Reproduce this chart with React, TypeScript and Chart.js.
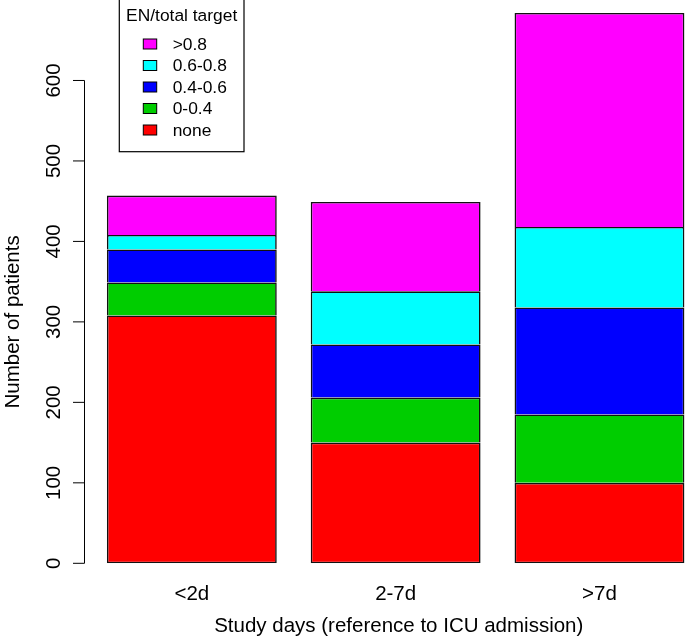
import React, { useEffect, useRef } from "react";
import { Chart, registerables } from "chart.js";

Chart.register(...registerables);

// ---- data ----
const CATEGORIES = ["<2d", "2-7d", ">7d"];
const SERIES_LABELS = ["none", "0-0.4", "0.4-0.6", "0.6-0.8", ">0.8"];
const NONE = [308, 150, 100];
const EN_0_04 = [41, 56, 85];
const EN_04_06 = [41, 66, 133];
const EN_06_08 = [18, 66, 100];
const EN_GT_08 = [49, 111, 266];
const Y_TICKS = [0, 100, 200, 300, 400, 500, 600];
const LEGEND_TITLE = "EN/total target";
const X_TITLE = "Study days (reference to ICU admission)";
const Y_TITLE = "Number of patients";
const COLORS = ["#FF0000", "#00CD00", "#0000FF", "#00FFFF", "#FF00FF"];

const FONT = "'Liberation Sans', Arial, Helvetica, sans-serif";
const MAIN_SIZE = 20.5;
const LEGEND_SIZE = 17.4;

const rStylePlugin = {
  id: "rStyle",
  afterDraw(chart: any) {
    const { ctx, chartArea, scales } = chart;
    const y = scales.y;
    const x0 = chartArea.left;
    ctx.save();
    // y axis line (only from first to last tick, like R)
    const yTop = y.getPixelForValue(Y_TICKS[Y_TICKS.length - 1]);
    const yBot = y.getPixelForValue(Y_TICKS[0]);
    ctx.strokeStyle = "#000";
    ctx.lineWidth = 1;
    ctx.beginPath();
    ctx.moveTo(x0, yTop);
    ctx.lineTo(x0, yBot);
    Y_TICKS.forEach((t) => {
      const py = y.getPixelForValue(t);
      ctx.moveTo(x0, py);
      ctx.lineTo(x0 - 11.5, py);
    });
    ctx.stroke();

    // rotated tick labels
    ctx.fillStyle = "#000";
    ctx.font = `${MAIN_SIZE}px ${FONT}`;
    ctx.textAlign = "center";
    ctx.textBaseline = "alphabetic";
    Y_TICKS.forEach((t) => {
      const py = y.getPixelForValue(t);
      ctx.save();
      ctx.translate(x0 - 24.5, py);
      ctx.rotate(-Math.PI / 2);
      ctx.fillText(String(t), 0, 0);
      ctx.restore();
    });

    // y title
    const midY = y.getPixelForValue((Y_TICKS[0] + Y_TICKS[Y_TICKS.length - 1]) / 2);
    ctx.save();
    ctx.translate(x0 - 65.5, midY);
    ctx.rotate(-Math.PI / 2);
    ctx.fillText(Y_TITLE, 0, 0);
    ctx.restore();

    // legend box
    const lx = x0 + 34.8;
    const rx = x0 + 159.5;
    const ty = -2;
    const by = 151.7;
    ctx.lineWidth = 1.2;
    ctx.strokeStyle = "#000";
    ctx.strokeRect(lx, ty, rx - lx, by - ty);
    const cx = (lx + rx) / 2;
    ctx.font = `${LEGEND_SIZE}px ${FONT}`;
    ctx.textAlign = "center";
    ctx.textBaseline = "middle";
    ctx.fillText(LEGEND_TITLE, cx, 16);
    const ds = chart.data.datasets;
    ctx.textAlign = "left";
    ctx.lineWidth = 1;
    for (let i = ds.length - 1, r = 0; i >= 0; i--, r++) {
      const cy = 44 + r * 21.5;
      ctx.fillStyle = ds[i].backgroundColor;
      ctx.fillRect(lx + 24, cy - 5, 13.4, 10);
      ctx.strokeRect(lx + 24, cy - 5, 13.4, 10);
      ctx.fillStyle = "#000";
      ctx.fillText(ds[i].label, lx + 53.4, cy + 1);
    }
    ctx.restore();
  },
};

export default function App() {
  const ref = useRef<HTMLCanvasElement | null>(null);

  useEffect(() => {
    if (!ref.current) return;
    const seriesValues = [NONE, EN_0_04, EN_04_06, EN_06_08, EN_GT_08];
    const chart = new Chart(ref.current, {
      type: "bar",
      data: {
        datasets: seriesValues.map((vals, si) => ({
          label: SERIES_LABELS[si],
          data: vals.map((v, i) => ({ x: i + 1, y: v })),
          backgroundColor: COLORS[si],
          borderColor: "#111",
          borderWidth: 1.6,
          borderSkipped: si === 0 ? false : "start",
          stack: "all",
          barPercentage: 1 / 1.2,
          categoryPercentage: 1,
        })),
      },
      options: {
        animation: false,
        responsive: false,
        devicePixelRatio: 1,
        layout: { padding: { left: 84.5, right: 7, top: 0, bottom: 0 } },
        plugins: {
          legend: { display: false },
          tooltip: { enabled: false },
          title: { display: false },
        },
        scales: {
          x: {
            type: "linear",
            min: 0.4734,
            max: 3.557,
            offset: false,
            grid: { display: false, drawTicks: false },
            border: { display: false },
            afterBuildTicks: (scale: any) => {
              scale.ticks = CATEGORIES.map((_, i) => ({ value: i + 1 }));
            },
            afterFit: (scale: any) => {
              scale.height = 73.7;
            },
            ticks: {
              padding: 19,
              color: "#000",
              font: { family: FONT, size: MAIN_SIZE },
              maxRotation: 0,
              minRotation: 0,
              autoSkip: false,
              callback: (value: any) => CATEGORIES[Math.round(Number(value)) - 1] ?? "",
            },
            title: {
              display: true,
              text: X_TITLE,
              color: "#000",
              font: { family: FONT, size: MAIN_SIZE },
              padding: { top: 0, bottom: -2 },
            },
          },
          y: {
            type: "linear",
            display: false,
            stacked: true,
            min: 0,
            max: 700,
          },
        },
      },
      plugins: [rStylePlugin],
    });
    return () => chart.destroy();
  }, []);

  return (
    <div
      style={{
        position: "absolute",
        left: 0,
        top: 0,
        width: 685,
        height: 637,
        overflow: "hidden",
        background: "#fff",
      }}
    >
      <canvas ref={ref} width={720} height={637} style={{ display: "block", width: 720, height: 637 }} />
    </div>
  );
}
